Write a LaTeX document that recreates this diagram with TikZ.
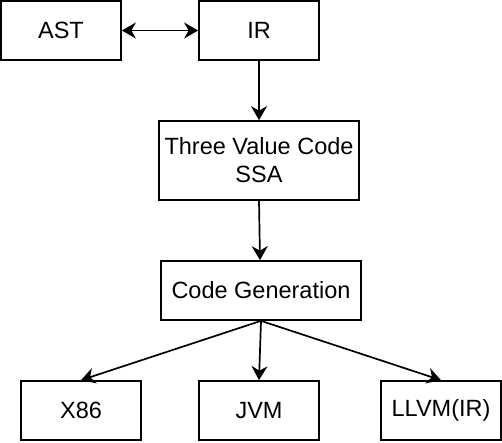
\documentclass[tikz,border=0pt]{standalone}
\usepackage{fontspec}
\setmainfont{Liberation Sans}
\usetikzlibrary{arrows.meta}
\begin{document}
\begin{tikzpicture}[x=1pt,y=-1pt,
  box/.style={draw,line width=1.7pt,minimum width=120pt,minimum height=59pt,inner sep=0pt,font=\fontsize{23.5}{28}\selectfont,align=center},
  wide/.style={box,minimum width=200pt},
  tall/.style={wide,minimum height=79pt},
  tip/.style={Stealth[length=14pt,width=16pt,inset=4.5pt]},
  conn/.style={line width=1.7pt,-{Stealth[length=14pt,width=16pt,inset=4.5pt]}},
  conn2/.style={line width=1.7pt,{Stealth[length=14pt,width=16pt,inset=4.5pt]}-{Stealth[length=14pt,width=16pt,inset=4.5pt]}}]
\useasboundingbox (0,0) rectangle (502,442);
\node[box] (ast) at (61,30.5) {AST};
\node[box] (ir) at (259,30.5) {IR};
\node[tall] (ssa) at (259,160.5) {Three Value Code\\SSA};
\node[wide] (cg) at (261,290.5) {Code Generation};
\node[box] (x86) at (81,410.5) {X86};
\node[box] (jvm) at (259,410.5) {JVM};
\node[box] (llvm) at (441,410.5) {LLVM(IR)};
\draw[conn2] (ast) -- (ir);
\draw[conn] (ir) -- (ssa);
\draw[conn] (ssa.south) -- (cg.north -| 260,0);
\draw[conn] (cg.south) -- (x86.north);
\draw[conn] (cg.south) -- (jvm.north);
\draw[conn] (cg.south) -- (llvm.north);
\end{tikzpicture}
\end{document}
